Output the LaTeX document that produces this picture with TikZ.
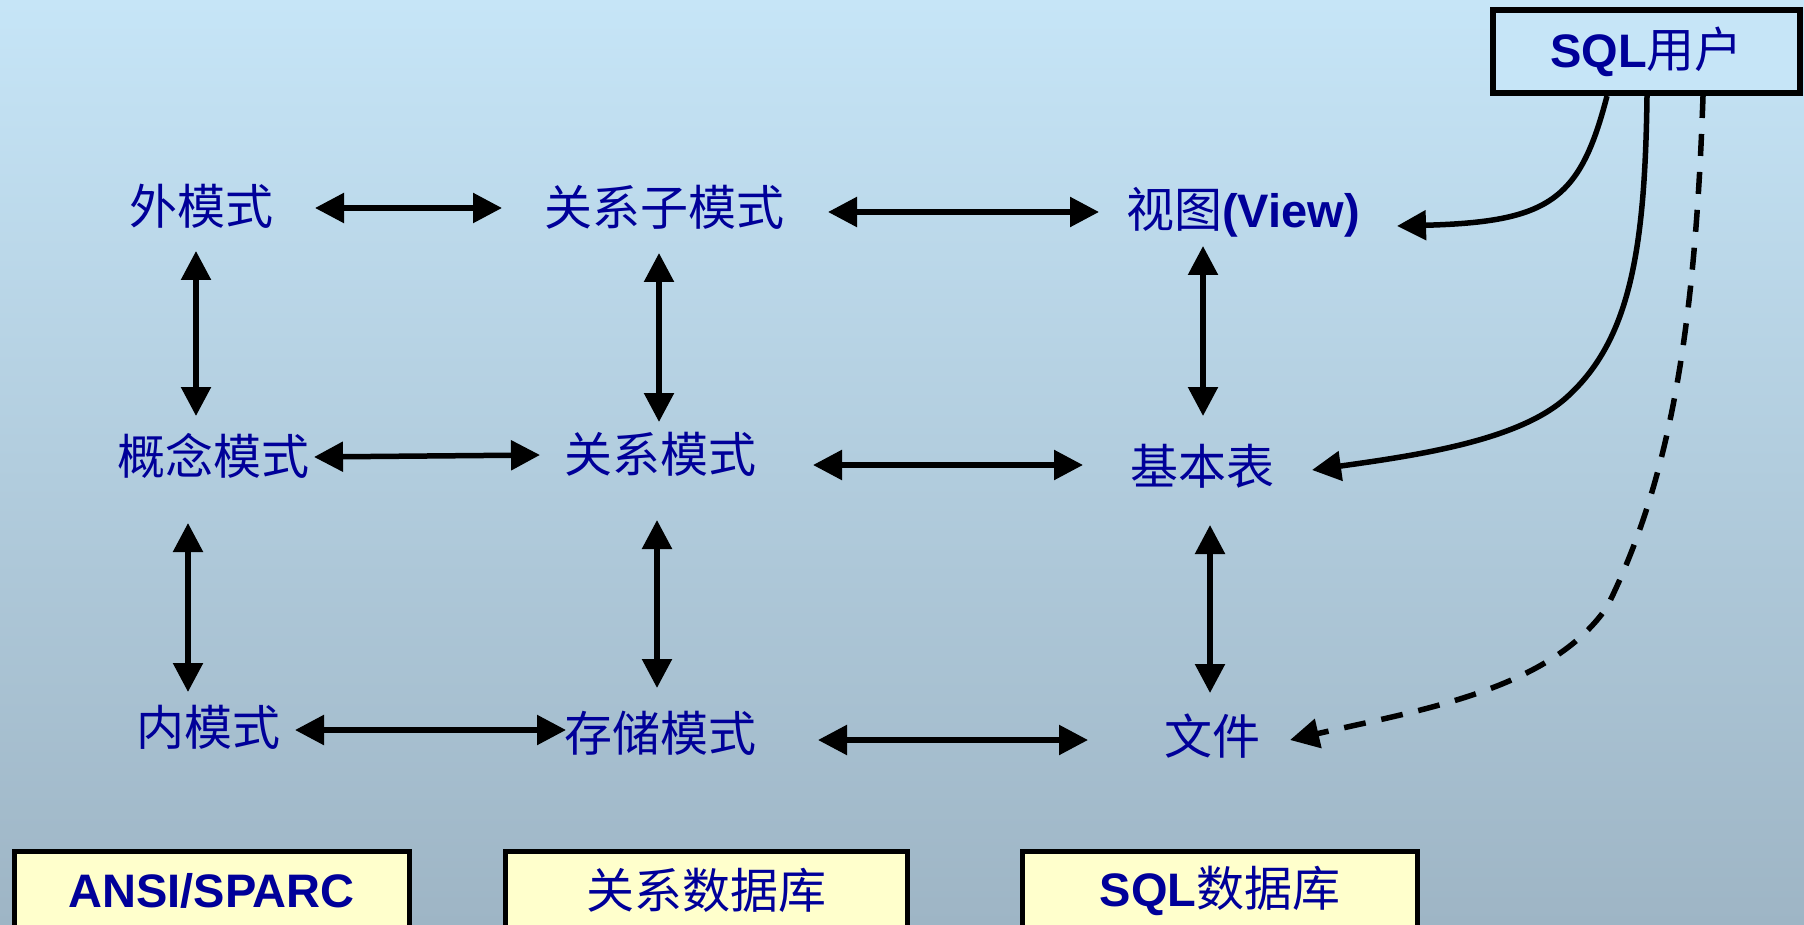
\documentclass[tikz,border=0pt]{standalone}
\usepackage{fontspec}
\setmainfont{Liberation Sans}
\newfontfamily\cjk{Noto Sans CJK SC}
\usetikzlibrary{arrows.meta}
\definecolor{bgtop}{RGB}{198,229,247}
\definecolor{bgbot}{RGB}{158,181,197}
\definecolor{txt}{RGB}{0,0,153}
\definecolor{boxy}{RGB}{255,255,204}
\tikzset{
  lbl/.style={text=txt, inner sep=0pt, font=\cjk\fontsize{48}{56}\selectfont},
  dar/.style={line width=5.5pt, {Triangle[length=29pt,width=29pt]}-{Triangle[length=29pt,width=29pt]}},
  sar/.style={line width=5.5pt, -{Triangle[length=29pt,width=29pt]}},
  ybox/.style={draw=black, line width=5pt, fill=boxy, text=txt, inner sep=0pt, minimum height=78pt}
}
\newcommand{\lt}[1]{{\normalfont\bfseries\fontsize{47}{56}\selectfont #1}}
\newcommand{\ck}[1]{{\cjk\fontsize{48}{56}\selectfont #1}}
\begin{document}
\begin{tikzpicture}[x=1pt,y=-1pt]
\shade[top color=bgtop, bottom color=bgbot] (0,0) rectangle (1804,925);
\useasboundingbox (0,0) rectangle (1804,925);

% labels
\node[lbl] (wai) at (201,206) {外模式};
\node[lbl] (zi) at (664,207) {关系子模式};
\node[lbl] (view) at (1243,212) {\ck{视图}\lt{(View)}};
\node[lbl] (gn) at (213,456) {概念模式};
\node[lbl] (gx) at (660,454) {关系模式};
\node[lbl] (jb) at (1202,466) {基本表};
\node[lbl] (nei) at (208,727) {内模式};
\node[lbl] (cc) at (660,733) {存储模式};
\node[lbl] (wj) at (1212,736) {文件};

% SQL user box
\node[draw=black, line width=6pt, fill=bgtop, text=txt, inner sep=0pt,
      minimum width=307pt, minimum height=83pt] (sql) at (1646.5,51.5) {\lt{SQL}\ck{用户}};

% bottom boxes
\node[ybox, minimum width=395pt] (b1) at (211.5,890.5) {\lt{ANSI/SPARC}};
\node[ybox, minimum width=402pt] (b2) at (706.5,890.5) {\ck{关系数据库}};
\node[ybox, minimum width=395pt] (b3) at (1220,890.5) {\lt{SQL}\ck{数据库}};

% horizontal arrows
\draw[dar] ([shift={(114,2)}]wai.center) -- ([shift={(-162,1)}]zi.center);
\draw[dar] ([shift={(164,5)}]zi.center) -- ([shift={(-144,0)}]view.center);
\draw[dar] ([shift={(101,1)}]gn.center) -- ([shift={(-120,1)}]gx.center);
\draw[dar] ([shift={(153,11)}]gx.center) -- ([shift={(-119,-1)}]jb.center);
\draw[dar] ([shift={(87,3)}]nei.center) -- ([shift={(-94,-3)}]cc.center);
\draw[dar] ([shift={(158,7)}]cc.center) -- ([shift={(-124,4)}]wj.center);

% vertical arrows
\draw[dar] ([shift={(-5,45)}]wai.center) -- ([shift={(-17,-40)}]gn.center);
\draw[dar] ([shift={(-5,46)}]zi.center) -- ([shift={(-1,-32)}]gx.center);
\draw[dar] ([shift={(-40,34)}]view.center) -- ([shift={(1,-50)}]jb.center);
\draw[dar] ([shift={(-25,67)}]gn.center) -- ([shift={(-20,-35)}]nei.center);
\draw[dar] ([shift={(-3,66)}]gx.center) -- ([shift={(-3,-45)}]cc.center);
\draw[dar] ([shift={(8,59)}]jb.center) -- ([shift={(-2,-43)}]wj.center);

% curves from SQL user
\draw[sar] ([xshift=-39.5pt]sql.south) .. controls (1580,200) and (1550,222) .. ([shift={(154,14)}]view.center);
\draw[sar] ([xshift=0.5pt]sql.south) .. controls (1645,250) and (1630,340) .. (1567,397)
  .. controls (1520,440) and (1420,455) .. ([shift={(110,4)}]jb.center);
\draw[sar, dash pattern=on 22pt off 16pt] ([xshift=56.5pt]sql.south) .. controls (1695,330) and (1670,480) .. (1607,607)
  .. controls (1550,690) and (1420,710) .. ([shift={(78,4)}]wj.center);
\end{tikzpicture}
\end{document}
